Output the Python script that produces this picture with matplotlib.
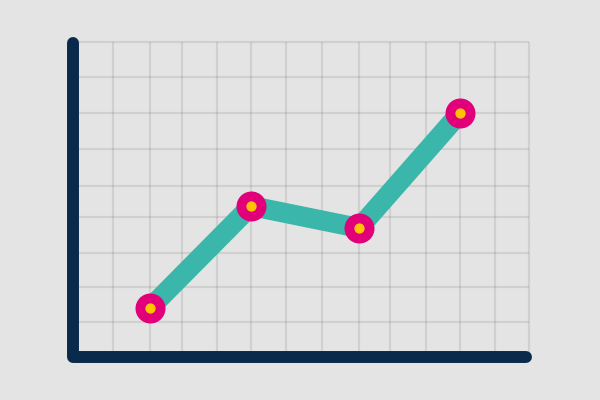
import matplotlib.pyplot as plt

# grid positions (distance from the axis corner)
grid_x = [40, 77, 109, 144, 178, 213, 249, 286, 317, 353, 387, 422, 456]
grid_y = [35, 70, 104, 140, 171, 208, 244, 280, 315]

# the four data points
x_vals = [77, 178, 286, 387]
y_vals = [49, 151, 129, 244]

bg = '#e4e4e4'
navy = '#0a2a4c'
teal = '#3ab7aa'
pink = '#e2007a'
yellow = '#ffc200'

fig = plt.figure(figsize=(6, 4), dpi=100, facecolor=bg)
ax = fig.add_axes([0, 0, 1, 1])
ax.set_facecolor(bg)
ax.set_xlim(-73, 527)
ax.set_ylim(-43, 357)
ax.axis('off')

# grid
ax.vlines(grid_x, 0, max(grid_y), color='black', alpha=0.085, lw=1.6, zorder=1)
ax.hlines(grid_y, 5, max(grid_x), color='black', alpha=0.085, lw=1.6, zorder=1)

# axes lines
ax.plot([0, 0, max(grid_x) - 3], [max(grid_y) - 1, 0, 0], color=navy, lw=8.6,
        solid_capstyle='round', solid_joinstyle='round', zorder=3)

# data line and markers
ax.plot(x_vals, y_vals, color=teal, lw=14.4, solid_capstyle='butt', zorder=4)
ax.plot(x_vals, y_vals, 'o', color=pink, markersize=21.6, markeredgewidth=0, zorder=5)
ax.plot(x_vals, y_vals, 'o', color=yellow, markersize=7.4, markeredgewidth=0, zorder=6)

fig.savefig('out.png', dpi=100, facecolor=bg)
